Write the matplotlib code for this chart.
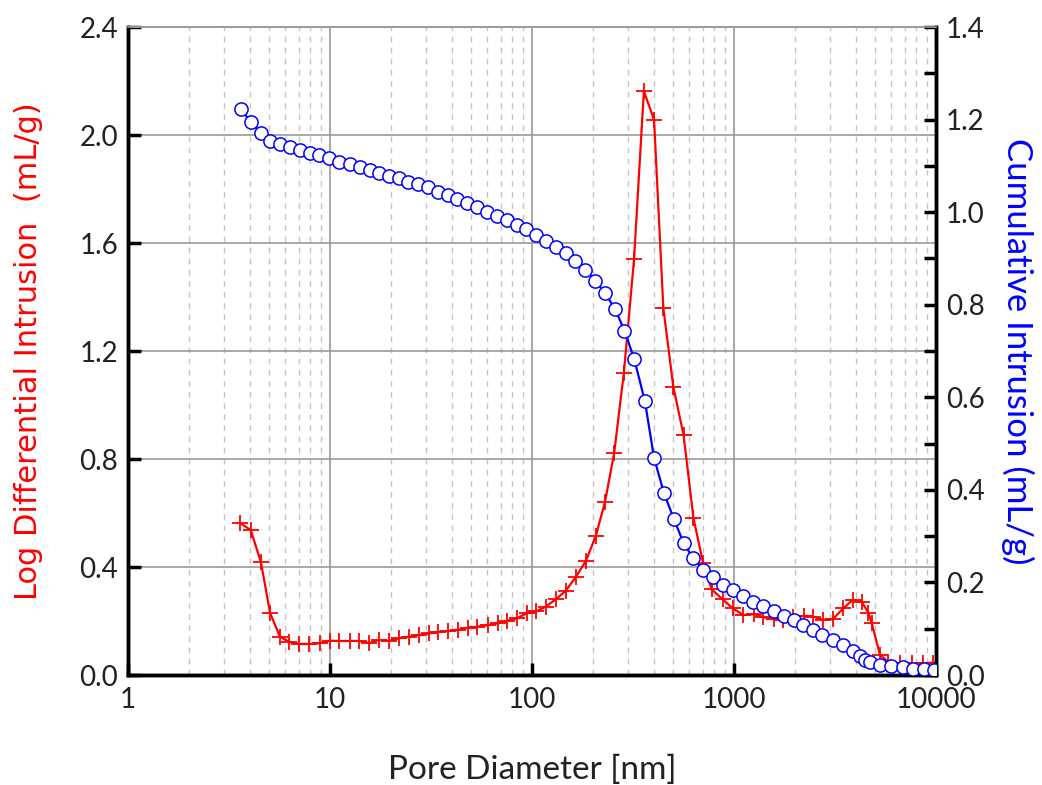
import matplotlib
matplotlib.use("Agg")
import matplotlib.pyplot as plt
from matplotlib.ticker import FixedLocator, NullFormatter, LogLocator, MultipleLocator

# Log differential intrusion (left axis, red)
diff_x = [3.58, 4.05, 4.55, 5.05, 5.65, 6.27, 7.05, 7.9, 8.93, 10, 11.1, 12.5, 13.95, 15.6,
          17.5, 19.6, 22, 24.7, 27.7, 31, 34.3, 38.5, 42.8, 48, 53.7, 60.3, 67.6, 75, 84, 94,
          105, 117, 131.5, 147, 165, 185, 207, 230, 255, 285, 320, 358, 402, 447, 501, 563,
          630, 703, 776, 879, 986, 1112, 1256, 1396, 1578, 1754, 1967, 2223, 2472, 2750,
          3084, 3478, 3870, 4290, 4620, 4800, 5283, 5808, 6637, 7585, 8656, 9700]
diff_y = [0.563, 0.537, 0.418, 0.23, 0.142, 0.123, 0.115, 0.115, 0.118, 0.127, 0.126, 0.126,
          0.126, 0.118, 0.13, 0.127, 0.136, 0.142, 0.148, 0.154, 0.16, 0.163, 0.167, 0.175,
          0.179, 0.185, 0.191, 0.2, 0.21, 0.228, 0.236, 0.253, 0.281, 0.312, 0.364, 0.423,
          0.515, 0.642, 0.821, 1.119, 1.54, 2.163, 2.056, 1.358, 1.066, 0.888, 0.581, 0.415,
          0.317, 0.280, 0.247, 0.222, 0.226, 0.214, 0.207, 0.204, 0.214, 0.219, 0.216, 0.204,
          0.207, 0.247, 0.278, 0.271, 0.231, 0.194, 0.074, 0.049, 0.043, 0.043, 0.043, 0.046]

# Cumulative intrusion (right axis, blue)
cum_x = [3.61, 4.05, 4.54, 5.05, 5.65, 6.34, 7.1, 7.96, 8.85, 9.93, 11.1, 12.5, 14, 15.7,
         17.5, 19.7, 21.9, 24.4, 27.4, 30.7, 34.4, 38.3, 42.7, 47.8, 53.2, 59.7, 66.9, 75,
         84, 93.4, 104.7, 117, 131.5, 147, 164, 184, 206, 230, 258, 287, 321, 362, 402, 450,
         505, 563, 629, 705, 790, 885, 990, 1112, 1247, 1397, 1578, 1770, 1983, 2205, 2455,
         2718, 3084, 3453, 3870, 4207, 4452, 4688, 5283, 5957, 6839, 7691, 8696, 9745]
cum_y = [1.223, 1.195, 1.172, 1.154, 1.147, 1.140, 1.134, 1.128, 1.123, 1.116, 1.109, 1.104,
         1.097, 1.091, 1.085, 1.078, 1.073, 1.066, 1.060, 1.054, 1.044, 1.036, 1.028, 1.019,
         1.012, 1.001, 0.992, 0.983, 0.972, 0.963, 0.951, 0.938, 0.925, 0.911, 0.894, 0.875,
         0.852, 0.825, 0.79, 0.744, 0.682, 0.592, 0.469, 0.393, 0.336, 0.285, 0.252, 0.227,
         0.211, 0.194, 0.184, 0.171, 0.158, 0.149, 0.139, 0.127, 0.119, 0.108, 0.097, 0.086,
         0.076, 0.065, 0.052, 0.040, 0.033, 0.028, 0.022, 0.019, 0.017, 0.014, 0.013, 0.011]

x_ticks = [1, 10, 100, 1000, 10000]
x_tick_labels = ["1", "10", "100", "1000", "10000"]
left_ticks = [0.0, 0.4, 0.8, 1.2, 1.6, 2.0, 2.4]
right_ticks = [0.0, 0.2, 0.4, 0.6, 0.8, 1.0, 1.2, 1.4]

plt.rcParams['font.family'] = ['Lato', 'DejaVu Sans']

fig = plt.figure(figsize=(10.42, 7.85), dpi=100)
ax = fig.add_axes([128/1042, 110/785, (936-128)/1042, (675-27)/785])
ax2 = ax.twinx()

ax.set_xscale('log')
ax.set_xlim(1, 10000)
ax.set_ylim(0, 2.4)
ax2.set_ylim(0, 1.4)

ax.xaxis.set_major_locator(FixedLocator(x_ticks))
ax.set_xticklabels(x_tick_labels)
ax.xaxis.set_minor_locator(LogLocator(base=10, subs=range(2, 10), numticks=20))
ax.xaxis.set_minor_formatter(NullFormatter())
ax.set_yticks(left_ticks)
ax.set_yticklabels([f"{v:.1f}" for v in left_ticks])
ax2.set_yticks(right_ticks)
ax2.set_yticklabels([f"{v:.1f}" for v in right_ticks])
ax2.yaxis.set_minor_locator(MultipleLocator(0.1))

ax.grid(which='major', axis='both', color='#9a9a9a', linewidth=1.2, linestyle='-')
ax.grid(which='minor', axis='x', color='#c4c4c4', linewidth=1.0, linestyle=(0, (4, 4)))
ax.set_axisbelow(True)

ax.plot(diff_x, diff_y, color='#ff0000', linewidth=1.6, marker='+', markersize=11,
        markeredgewidth=1.3, zorder=3)
ax2.plot(cum_x, cum_y, color='#0000ff', linewidth=1.6, marker='o', markersize=9.5,
         markerfacecolor='white', markeredgecolor='#0000ff', markeredgewidth=1.1, zorder=3)

for a in (ax, ax2):
    for s in ('left', 'bottom', 'right'):
        a.spines[s].set_linewidth(2.5)
        a.spines[s].set_color('black')
    a.spines['top'].set_linewidth(1.2)
    a.spines['top'].set_color('#9a9a9a')

ax.tick_params(axis='both', which='major', direction='in', length=9, width=2.5,
               labelsize=20, colors='black', labelcolor='#222222', pad=7)
ax.tick_params(axis='x', which='minor', length=0)
ax.tick_params(axis='x', which='major', pad=9)
ax2.tick_params(axis='y', which='major', direction='in', length=9, width=2.5,
                labelsize=20, labelcolor='#222222', pad=7)
ax2.tick_params(axis='y', which='minor', direction='in', length=9, width=2.5)

ax.set_xlabel("Pore Diameter [nm]", fontsize=24, color='#222222', labelpad=30)
ax.set_ylabel("Log Differential Intrusion  (mL/g)", fontsize=22, color='#ff0000',
              family=['Liberation Sans Narrow', 'DejaVu Sans'], labelpad=26)
ax2.set_ylabel("Cumulative Intrusion (mL/g)", fontsize=25, color='#0000ff',
               rotation=270, labelpad=36)

fig.savefig("out.png", dpi=100)
